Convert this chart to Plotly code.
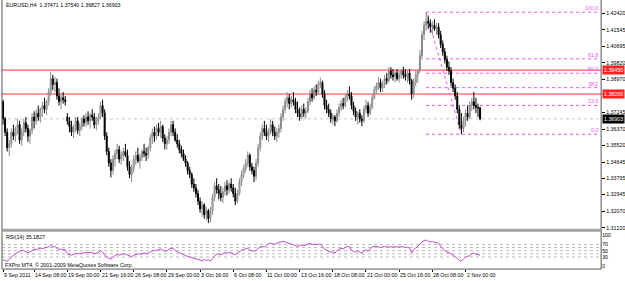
import plotly.graph_objects as go

W, H = 625, 281

# ---------------- DATA (prices in units of 0.0001) ----------------
open_pts = [
    13780,13690,13620,13540,13560,13620,13600,13640,13660,13580,
    13620,13670,13640,13600,13630,13700,13680,13720,13700,13740,
    13760,13740,13780,13830,13900,13870,13880,13810,13780,13800,
    13790,13700,13680,13650,13620,13640,13680,13630,13650,13690,
    13670,13700,13680,13710,13700,13660,13680,13700,13760,13720,
    13600,13520,13460,13420,13480,13510,13530,13480,13500,13520,
    13500,13440,13400,13430,13480,13500,13470,13490,13520,13510,
    13500,13540,13590,13620,13600,13640,13620,13650,13590,13560,
    13580,13620,13660,13620,13580,13560,13530,13510,13480,13460,
    13420,13400,13350,13330,13300,13260,13220,13240,13190,13210,
    13170,13210,13280,13340,13320,13300,13280,13310,13340,13320,
    13350,13330,13300,13260,13300,13360,13400,13430,13460,13500,
    13440,13420,13390,13460,13540,13600,13640,13620,13600,13630,
    13660,13620,13600,13620,13640,13700,13740,13780,13800,13770,
    13790,13780,13740,13720,13700,13740,13720,13730,13780,13820,
    13800,13840,13830,13870,13880,13820,13760,13740,13720,13690,
    13700,13680,13720,13750,13770,13760,13800,13820,13810,13760,
    13730,13700,13720,13690,13680,13740,13760,13720,13750,13800,
    13840,13860,13880,13850,13870,13900,13890,13940,13920,13910,
    13930,13900,13920,13940,13920,13910,13930,13890,13820,13880,
    13920,13940,14020,14130,14180,14200,14190,14170,14180,14160,
    14170,14130,14080,14040,14000,13960,13940,13880,13850,13810,
    13740,13660,13640,13680,13720,13700,13760,13780,13760,13750,
    13747.1,
]
high_pts = [
    13790,13700,13640,13580,13640,13660,13650,13690,13680,13640,
    13690,13700,13660,13640,13720,13730,13740,13760,13750,13780,
    13800,13790,13850,13935,13920,13910,13900,13850,13820,13830,
    13810,13720,13700,13680,13660,13700,13700,13670,13700,13710,
    13720,13730,13720,13740,13720,13700,13720,13780,13790,13740,
    13620,13540,13480,13500,13530,13560,13550,13520,13540,13560,
    13530,13470,13450,13500,13520,13540,13510,13530,13560,13540,
    13550,13610,13640,13650,13660,13670,13680,13660,13610,13600,
    13640,13680,13680,13640,13610,13580,13550,13530,13500,13470,
    13440,13410,13380,13350,13320,13280,13260,13250,13230,13220,
    13230,13300,13360,13380,13350,13340,13330,13360,13370,13360,
    13380,13350,13330,13320,13380,13420,13450,13480,13520,13510,
    13460,13440,13480,13560,13620,13660,13680,13660,13640,13690,
    13680,13650,13640,13660,13720,13760,13800,13830,13820,13810,
    13830,13800,13780,13750,13760,13770,13750,13800,13840,13850,
    13860,13870,13890,13906,13890,13840,13790,13770,13740,13720,
    13710,13740,13770,13790,13800,13820,13840,13860,13830,13780,
    13750,13730,13740,13710,13760,13790,13780,13770,13820,13860,
    13880,13910,13900,13890,13920,13930,13960,13960,13950,13940,
    13950,13940,13950,13963,13950,13940,13950,13900,13900,13940,
    13950,14050,14150,14200,14247,14230,14210,14200,14210,14190,
    14190,14150,14100,14060,14020,13990,13960,13900,13870,13830,
    13760,13720,13700,13740,13760,13780,13800,13830,13800,13770,
    13754.0,
]
low_pts = [
    13660,13600,13520,13495,13540,13580,13570,13610,13560,13550,
    13600,13620,13570,13560,13610,13640,13660,13680,13670,13700,
    13720,13710,13760,13810,13840,13830,13790,13760,13740,13770,
    13760,13660,13620,13600,13590,13620,13610,13600,13630,13650,
    13650,13660,13640,13680,13640,13630,13660,13690,13700,13580,
    13500,13440,13385,13400,13440,13480,13460,13450,13470,13490,
    13420,13380,13360,13410,13450,13460,13430,13470,13490,13470,
    13480,13520,13560,13570,13580,13600,13590,13570,13530,13530,
    13560,13600,13600,13570,13540,13510,13490,13470,13440,13400,
    13380,13330,13310,13280,13240,13200,13180,13170,13160,13146,
    13150,13190,13260,13300,13270,13260,13250,13290,13290,13300,
    13310,13280,13240,13250,13290,13340,13380,13410,13440,13420,
    13400,13360,13370,13440,13520,13580,13600,13580,13570,13610,
    13600,13580,13570,13590,13620,13680,13720,13750,13740,13750,
    13760,13720,13700,13680,13690,13700,13690,13720,13760,13780,
    13790,13810,13820,13850,13800,13740,13720,13700,13670,13660,
    13652,13670,13700,13730,13740,13750,13780,13790,13740,13710,
    13680,13660,13670,13652,13670,13720,13700,13710,13740,13790,
    13820,13840,13830,13830,13850,13870,13880,13900,13890,13880,
    13890,13880,13900,13900,13890,13880,13870,13790,13800,13860,
    13880,13930,14000,14100,14150,14160,14140,14130,14150,14130,
    14110,14060,14020,13980,13940,13920,13860,13830,13790,13720,
    13640,13610,13620,13650,13680,13690,13730,13740,13720,13700,
    13682.7,
]
close_pts = [
    13690,13620,13540,13560,13620,13600,13640,13660,13580,13620,
    13670,13640,13600,13630,13700,13680,13720,13700,13740,13760,
    13740,13780,13830,13900,13870,13880,13810,13780,13800,13790,
    13780,13680,13650,13620,13640,13680,13630,13650,13690,13670,
    13700,13680,13710,13700,13660,13680,13700,13760,13720,13600,
    13520,13460,13420,13480,13510,13530,13480,13500,13520,13500,
    13440,13400,13430,13480,13500,13470,13490,13520,13510,13500,
    13540,13590,13620,13600,13640,13620,13650,13590,13560,13580,
    13620,13660,13620,13580,13560,13530,13510,13480,13460,13420,
    13400,13350,13330,13300,13260,13220,13240,13190,13210,13170,
    13210,13280,13340,13320,13300,13280,13310,13340,13320,13350,
    13330,13300,13260,13300,13360,13400,13430,13460,13500,13440,
    13420,13390,13460,13540,13600,13640,13620,13600,13630,13660,
    13620,13600,13620,13640,13700,13740,13780,13800,13770,13790,
    13780,13740,13720,13700,13740,13720,13730,13780,13820,13800,
    13840,13830,13870,13880,13820,13760,13740,13720,13690,13700,
    13680,13720,13750,13770,13760,13800,13820,13810,13760,13730,
    13700,13720,13690,13680,13740,13760,13720,13750,13800,13840,
    13860,13880,13850,13870,13900,13890,13940,13920,13910,13930,
    13900,13920,13940,13920,13910,13930,13890,13820,13880,13920,
    13940,14020,14130,14180,14200,14190,14170,14180,14160,14170,
    14130,14080,14040,14000,13960,13940,13880,13850,13810,13740,
    13660,13640,13680,13720,13700,13760,13780,13760,13750,13747.1,
    13690.3,
]
rsi_vals = [
    21,18,16,22,30,36,40,44,48,52,
    50,47,44,46,52,55,53,56,58,57,
    59,60,62,68,62,63,58,54,55,54,
    53,40,38,36,38,42,40,41,43,42,
    44,43,45,44,40,42,44,50,46,36,
    30,26,24,30,34,38,36,38,40,39,
    36,33,31,35,38,40,38,40,42,41,
    42,46,50,52,50,54,56,52,48,50,
    54,58,57,50,46,44,40,37,34,32,
    30,26,24,22,20,19,18,22,19,21,
    17,25,34,40,38,37,40,44,42,45,
    43,40,37,42,48,52,54,56,58,52,
    50,48,52,58,62,64,62,66,72,74,
    73,70,74,76,78,80,78,76,72,70,
    68,66,64,66,68,66,68,72,74,70,
    70,68,70,72,62,55,52,48,45,46,
    42,50,54,58,56,60,64,62,52,48,
    45,50,46,42,50,53,48,55,62,64,
    64,62,60,62,64,62,62,60,60,62,
    60,61,62,63,60,61,59,44,52,60,
    64,72,78,82,84,80,78,79,77,76,
    74,64,56,50,46,44,40,36,32,26,
    19,17,24,30,32,34,40,42,38,38,
    35.18,
]

time_labels = ["9 Sep 2011", "14 Sep 08:00", "19 Sep 00:00", "21 Sep 16:00",
               "26 Sep 08:00", "29 Sep 00:00", "3 Oct 16:00", "6 Oct 08:00",
               "11 Oct 00:00", "13 Oct 16:00", "18 Oct 08:00", "21 Oct 00:00",
               "25 Oct 16:00", "28 Oct 08:00", "2 Nov 00:00"]
time_label_bars = [0, 15, 31, 47, 63, 79, 95, 111, 127, 143, 159, 175, 191, 207, 223]

price_ticks = [1.31220, 1.32070, 1.32945, 1.33795, 1.34645, 1.35520, 1.36370,
               1.37245, 1.38970, 1.39820, 1.40695, 1.41545, 1.42420]

red_levels = [1.39450, 1.38200]
last_price = 1.36903
fib_high_bar, fib_high = 204, 1.42470
fib_low_bar, fib_low = 221, 1.36100
fib_ratios = [1.0, 0.618, 0.5, 0.382, 0.236, 0.0]
fib_names = ["100.0", "61.8", "50.0", "38.2", "23.6", "0.0"]
rsi_levels = [70, 60, 50, 40, 30]
rsi_tick_vals = [0, 30, 50, 70, 100]
rsi_text = "RSI(14) 35.1827"
title_text = "EURUSD,H4  1.37471 1.37540 1.36827 1.36903"
copyright_text = "FXPro MT4, \u00a9 2001-2009 MetaQuotes Software Corp."

# ---------------- FIGURE ----------------
sc = 1e-4
o = [v * sc for v in open_pts]
h = [v * sc for v in high_pts]
l = [v * sc for v in low_pts]
c = [v * sc for v in close_pts]
bars = list(range(len(close_pts)))


def px_x(p):
    return p / W


def px_y(p):
    return 1 - p / H


# pixel geometry
X_LEFT, X_RIGHT = 2, 605
MAIN_TOP, MAIN_BOT = 0, 230
RSI_TOP, RSI_BOT = 234, 271
BAR_W = 2.0875
x_lo = -0.5
x_hi = x_lo + (X_RIGHT - X_LEFT) / BAR_W

PX_PRICE = 0.0005185
y_hi = 1.42420 + (13.3 - MAIN_TOP) * PX_PRICE
y_lo = 1.31220 - (MAIN_BOT - 229.3) * PX_PRICE

RSI_PX = 0.316
r_hi = 100 + (236.7 - RSI_TOP) / RSI_PX
r_lo = 0 - (RSI_BOT - 268.3) / RSI_PX

FONT = "Liberation Sans"
FS = 5.3

fig = go.Figure()
fig.add_trace(go.Candlestick(
    x=bars, open=o, high=h, low=l, close=c,
    increasing=dict(line=dict(color="#8a8a8a", width=1), fillcolor="#d0d0d0"),
    decreasing=dict(line=dict(color="#000000", width=1), fillcolor="#000000"),
    whiskerwidth=0, xaxis="x", yaxis="y", showlegend=False, hoverinfo="skip",
))
fig.add_trace(go.Scatter(
    x=bars, y=rsi_vals, mode="lines", line=dict(color="#c24ccc", width=1),
    xaxis="x2", yaxis="y2", showlegend=False, hoverinfo="skip",
))

shapes = []
for lv in red_levels:
    shapes.append(dict(type="line", xref="x", yref="y", x0=x_lo, x1=x_hi, y0=lv, y1=lv,
                       line=dict(color="#ff3030", width=1), layer="below"))
shapes.append(dict(type="line", xref="x", yref="y", x0=x_lo, x1=x_hi, y0=last_price, y1=last_price,
                   line=dict(color="#c8c8c8", width=1, dash="dot"), layer="below"))
fib_col = "#ee55ee"
for r in fib_ratios:
    lv = fib_low + r * (fib_high - fib_low)
    shapes.append(dict(type="line", xref="x", yref="y", x0=fib_high_bar, x1=x_hi - 0.5, y0=lv, y1=lv,
                       line=dict(color=fib_col, width=1, dash="dot"), layer="below"))
shapes.append(dict(type="line", xref="x", yref="y", x0=fib_high_bar, x1=fib_low_bar,
                   y0=fib_high, y1=fib_low, line=dict(color=fib_col, width=1, dash="dot"), layer="below"))
for lv in rsi_levels:
    shapes.append(dict(type="line", xref="x2", yref="y2", x0=x_lo, x1=x_hi, y0=lv, y1=lv,
                       line=dict(color="#b8b8b8", width=1, dash="dot"), layer="below"))
frame = "#555555"
shapes.append(dict(type="line", xref="paper", yref="paper", x0=px_x(X_LEFT), x1=px_x(X_LEFT),
                   y0=px_y(RSI_BOT), y1=1, line=dict(color=frame, width=1)))
shapes.append(dict(type="line", xref="paper", yref="paper", x0=px_x(X_RIGHT), x1=px_x(X_RIGHT),
                   y0=px_y(RSI_BOT), y1=1, line=dict(color=frame, width=1)))
shapes.append(dict(type="rect", xref="paper", yref="paper", x0=px_x(X_LEFT), x1=px_x(X_RIGHT),
                   y0=px_y(MAIN_BOT + 3.5), y1=px_y(MAIN_BOT + 0.5), fillcolor="#a0a0a0",
                   line=dict(width=0)))
shapes.append(dict(type="line", xref="paper", yref="paper", x0=px_x(X_LEFT), x1=px_x(X_RIGHT),
                   y0=px_y(RSI_BOT), y1=px_y(RSI_BOT), line=dict(color=frame, width=1)))

ann = []
txt = dict(family=FONT, size=FS, color="#000000")
ann.append(dict(text=title_text, xref="paper", yref="paper", x=px_x(4), y=px_y(5),
                xanchor="left", yanchor="middle", showarrow=False, font=txt))
ann.append(dict(text=rsi_text, xref="paper", yref="paper", x=px_x(4), y=px_y(238.5),
                xanchor="left", yanchor="middle", showarrow=False, font=txt))
ann.append(dict(text=copyright_text, xref="paper", yref="paper", x=px_x(3), y=px_y(266.5),
                xanchor="left", yanchor="middle", showarrow=False, font=txt))
for lab, b in zip(time_labels, time_label_bars):
    ann.append(dict(text=lab, xref="x", yref="paper", x=b, y=px_y(276.5),
                    xanchor="left", yanchor="middle", showarrow=False, font=txt,
                    xshift=-1))
for r, nm in zip(fib_ratios, fib_names):
    lv = fib_low + r * (fib_high - fib_low)
    ann.append(dict(text=nm, xref="paper", yref="y", x=px_x(X_RIGHT - 1), y=lv,
                    xanchor="right", yanchor="bottom", showarrow=False,
                    font=dict(family=FONT, size=FS, color=fib_col), yshift=-1))
for lv in red_levels:
    ann.append(dict(text="%.5f" % lv, xref="paper", yref="y", x=px_x(X_RIGHT + 1), y=lv,
                    xanchor="left", yanchor="middle", showarrow=False,
                    font=dict(family=FONT, size=FS, color="#ffffff"),
                    bgcolor="#ff2020", borderpad=1))
ann.append(dict(text="%.5f" % last_price, xref="paper", yref="y", x=px_x(X_RIGHT + 1), y=last_price,
                xanchor="left", yanchor="middle", showarrow=False,
                font=dict(family=FONT, size=FS, color="#ffffff"),
                bgcolor="#000000", borderpad=1))

fig.update_layout(
    width=W, height=H, margin=dict(l=0, r=0, t=0, b=0),
    paper_bgcolor="white", plot_bgcolor="white",
    showlegend=False, shapes=shapes, annotations=ann,
    xaxis=dict(domain=[px_x(X_LEFT), px_x(X_RIGHT)], range=[x_lo, x_hi], anchor="y",
               showgrid=False, zeroline=False, showticklabels=False, ticks="",
               rangeslider=dict(visible=False), fixedrange=True),
    yaxis=dict(domain=[px_y(MAIN_BOT), px_y(MAIN_TOP)], range=[y_lo, y_hi], side="right",
               anchor="x", showgrid=False, zeroline=False,
               tickvals=price_ticks, ticktext=["%.5f" % v for v in price_ticks],
               ticks="outside", ticklen=3, tickcolor="#000000",
               tickfont=txt, fixedrange=True),
    xaxis2=dict(domain=[px_x(X_LEFT), px_x(X_RIGHT)], range=[x_lo, x_hi], anchor="y2",
                showgrid=False, zeroline=False, showticklabels=False,
                tickvals=time_label_bars, ticks="outside", ticklen=2, tickcolor="#000000"),
    yaxis2=dict(domain=[px_y(RSI_BOT), px_y(RSI_TOP)], range=[r_lo, r_hi], side="right",
                anchor="x2", showgrid=False, zeroline=False,
                tickvals=rsi_tick_vals, ticktext=[str(v) for v in rsi_tick_vals],
                ticks="", tickfont=txt, fixedrange=True),
)

fig.write_html("out.html")
